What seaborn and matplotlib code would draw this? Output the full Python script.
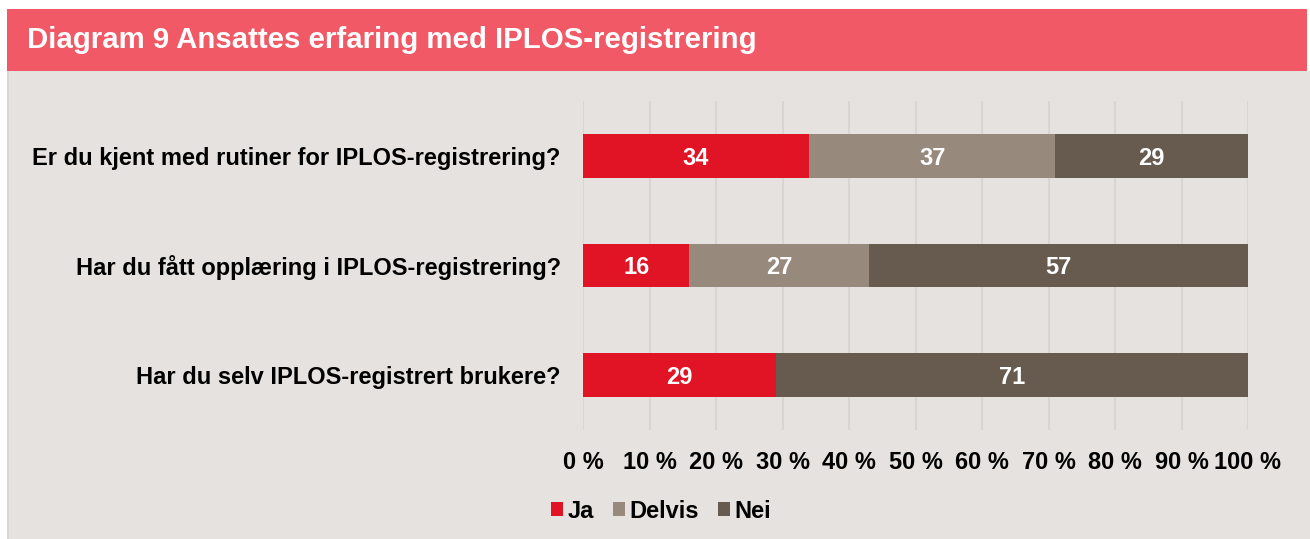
import matplotlib
matplotlib.use("Agg")
import matplotlib.pyplot as plt
from matplotlib.patches import Rectangle, Patch
import seaborn as sns
import pandas as pd
import numpy as np

categories = [
    "Er du kjent med rutiner for IPLOS-registrering?",
    "Har du fått opplæring i IPLOS-registrering?",
    "Har du selv IPLOS-registrert brukere?",
]
series_names = ["Ja", "Delvis", "Nei"]
ja = [34, 16, 29]
delvis = [37, 27, 0]
nei = [29, 57, 71]
tick_labels = ["0 %", "10 %", "20 %", "30 %", "40 %", "50 %", "60 %", "70 %", "80 %", "90 %", "100 %"]
title = "Diagram 9 Ansattes erfaring med IPLOS-registrering"

colors = {"Ja": "#E01424", "Delvis": "#98897D", "Nei": "#675B50"}
bg = "#E5E2DF"
header = "#F05965"

sns.set_theme(style="white")
plt.rcParams["font.family"] = ["Liberation Sans", "DejaVu Sans"]
plt.rcParams["font.weight"] = "bold"
plt.rcParams["text.color"] = "black"

W, H = 1310, 539
fig = plt.figure(figsize=(W / 100, H / 100), dpi=100, facecolor="white")

# panel background and header band
fig.patches.append(Rectangle((7 / W, 0), 1 - 7 / W, 1 - 71 / H, transform=fig.transFigure,
                             facecolor=bg, edgecolor="none", zorder=-10))
fig.patches.append(Rectangle((7 / W, 0), 2 / W, 1 - 71 / H, transform=fig.transFigure,
                             facecolor="#D8D5D2", edgecolor="none", zorder=-9))
fig.patches.append(Rectangle((7 / W, 1 - 71 / H), 1300 / W, 62 / H, transform=fig.transFigure,
                             facecolor=header, edgecolor="none", zorder=-10))
fig.text(27 / W, 1 - 40 / H, title, color="white", fontsize=21.2, fontweight="bold",
         va="center", ha="left")

ax = fig.add_axes([583 / W, 1 - 430 / H, (1248 - 583) / W, (430 - 101) / H])
ax.set_facecolor("none")
ax.set_zorder(1)

df = pd.DataFrame({"Spørsmål": categories, "Ja": ja, "Delvis": delvis, "Nei": nei})
cum_delvis = df["Ja"] + df["Delvis"]
cum_nei = cum_delvis + df["Nei"]

layers = [("Nei", cum_nei), ("Delvis", cum_delvis), ("Ja", df["Ja"])]
for name, vals in layers:
    d = pd.DataFrame({"Spørsmål": categories, "v": vals.values})
    sns.barplot(data=d, x="v", y="Spørsmål", orient="h", color=colors[name],
                width=0.4, ax=ax, saturation=1, linewidth=0, zorder=3)

starts = {"Ja": np.zeros(3), "Delvis": df["Ja"].values, "Nei": cum_delvis.values}
for name in series_names:
    vals = df[name].values
    for i, v in enumerate(vals):
        if v > 0:
            ax.text(starts[name][i] + v / 2, i, f"{v}", color="white", fontsize=17,
                    fontweight="bold", ha="center", va="center_baseline", zorder=5)

ax.set_xlim(0, 100)
ax.set_ylim(2.5, -0.5)
ax.set_xticks(np.arange(0, 101, 10))
ax.set_xticklabels(tick_labels, fontsize=17, fontweight="bold", color="black")
ax.tick_params(axis="x", length=0, pad=15)
ax.tick_params(axis="y", length=0, pad=16, labelsize=17)
for lbl in ax.get_yticklabels():
    lbl.set_fontweight("bold")
    lbl.set_color("black")
ax.set_xlabel("")
ax.set_ylabel("")
ax.grid(axis="x", color="#D8D5D2", linewidth=1.5, zorder=0)
ax.set_axisbelow(True)
for s in ax.spines.values():
    s.set_visible(False)

handles = [Patch(facecolor=colors[n], edgecolor="none", label=n) for n in series_names]
leg = fig.legend(handles=handles, loc="center", bbox_to_anchor=(661 / W, 1 - 511 / H), ncol=3,
                 frameon=False, prop={"size": 17, "weight": "bold"}, handlelength=0.5,
                 handleheight=0.5, handletextpad=0.2, columnspacing=0.8)
for t in leg.get_texts():
    t.set_color("black")

fig.savefig("out.png", dpi=100, facecolor="white")
